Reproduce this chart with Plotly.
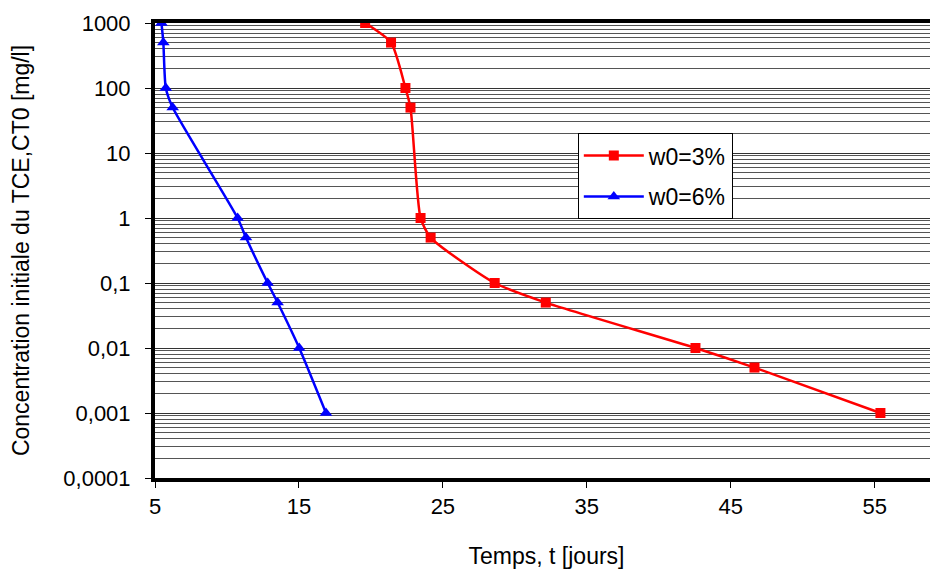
import plotly.graph_objects as go

# Data
t_w3 = [19.6, 21.4, 22.4, 22.75, 23.45, 24.15, 28.6, 32.15, 42.55, 46.65, 55.4]
c_w3 = [1000, 500, 100, 50, 1, 0.5, 0.1, 0.05, 0.01, 0.005, 0.001]
t_w6 = [5.45, 5.58, 5.75, 6.23, 10.74, 11.32, 12.83, 13.52, 15.02, 16.88]
c_w6 = [1000, 500, 100, 50, 1, 0.5, 0.1, 0.05, 0.01, 0.001]

x_ticks = [5, 15, 25, 35, 45, 55]
y_ticks = [0.0001, 0.001, 0.01, 0.1, 1, 10, 100, 1000]
y_tick_text = ["0,0001", "0,001", "0,01", "0,1", "1", "10", "100", "1000"]
y_minor = [m * 10.0 ** k for k in range(-4, 3) for m in range(2, 10)]

FONT = "Liberation Sans, Arial, sans-serif"
TICK_SIZE = 22
TITLE_SIZE = 23

fig = go.Figure()
fig.add_trace(go.Scatter(
    x=t_w3, y=c_w3, name="w0=3%", mode="lines+markers", legendgroup="a",
    line=dict(color="#FF0000", width=2.5, shape="spline", smoothing=0.6),
    marker=dict(symbol="square", size=10, color="#FF0000"),
))
fig.add_trace(go.Scatter(
    x=t_w6, y=c_w6, name="w0=6%", mode="lines+markers", legendgroup="b",
    line=dict(color="#0000FF", width=2.5, shape="spline", smoothing=0.6),
    marker=dict(symbol="triangle-up", size=11, color="#0000FF"),
))

fig.update_layout(
    width=930, height=562,
    margin=dict(l=147, r=0, t=15, b=92),
    paper_bgcolor="white", plot_bgcolor="white",
    font=dict(family=FONT, size=TICK_SIZE, color="black"),
    showlegend=True,
    legend=dict(
        x=0.540, y=0.758, xanchor="left", yanchor="top",
        bgcolor="white", bordercolor="black", borderwidth=1,
        font=dict(family=FONT, size=23, color="black"),
        tracegroupgap=8, itemwidth=60,
    ),
    xaxis=dict(
        range=[5, 59.4], tickvals=x_ticks, ticktext=[str(v) for v in x_ticks],
        showgrid=False, zeroline=False,
        showline=True, linecolor="black", linewidth=4, mirror=True,
        ticks="outside", ticklen=6, tickwidth=1, tickcolor="black",
        tickfont=dict(family=FONT, size=TICK_SIZE),
        title=dict(text="Temps, t [jours]", font=dict(family=FONT, size=TITLE_SIZE), standoff=30),
        automargin=False,
    ),
    yaxis=dict(
        type="log", range=[-4, 3],
        tickvals=y_ticks, ticktext=y_tick_text,
        showgrid=True, gridcolor="#333333", gridwidth=1, zeroline=False,
        showline=True, linecolor="black", linewidth=4, mirror=False,
        ticks="outside", ticklen=6, tickwidth=1, tickcolor="black",
        ticklabelstandoff=10,
        tickfont=dict(family=FONT, size=TICK_SIZE),
        minor=dict(tickvals=y_minor, showgrid=True, gridcolor="#555555", gridwidth=1, ticks=""),
        title=dict(text="Concentration initiale du TCE,CT0 [mg/l]", font=dict(family=FONT, size=TITLE_SIZE), standoff=35),
        automargin=False,
    ),
)

fig.write_html("out.html")
